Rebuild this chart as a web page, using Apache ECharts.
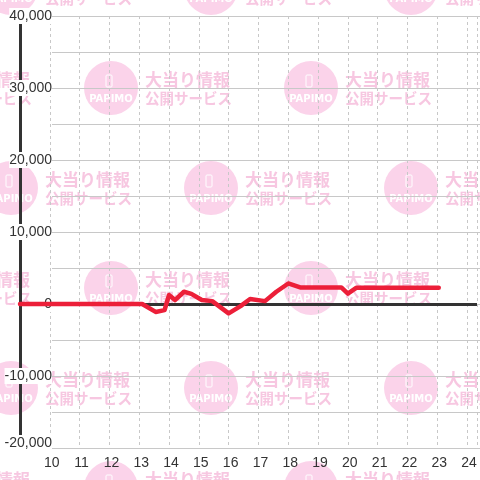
<!DOCTYPE html>
<html>
<head>
<meta charset="utf-8">
<script src="https://cdn.jsdelivr.net/npm/echarts@6/dist/echarts.min.js"></script>
<style>
html,body{margin:0;padding:0;background:#fff;}
#chart{width:480px;height:480px;}
</style>
</head>
<body>
<div id="chart"></div>
<script>
// ---- data ----
const hours  = [9, 13.1, 13.55, 13.85, 14.0, 14.2, 14.5, 14.75, 15.1, 15.45, 16.0, 16.4, 16.72, 17.22, 17.6, 18.0, 18.4, 19.78, 20.0, 20.28, 23.05];
const values = [0, 0, -1100, -850, 1250, 550, 1700, 1400, 550, 400, -1300, -300, 700, 400, 1700, 2850, 2300, 2300, 1450, 2250, 2250];
const xTickLabels = [10, 11, 12, 13, 14, 15, 16, 17, 18, 19, 20, 21, 22, 23, 24];
const yTickLabels = [-20000, -10000, 0, 10000, 20000, 30000, 40000];

const seriesData = hours.map((h, i) => [h, values[i]]);
const fmt = v => (v < 0 ? '-' : '') + Math.abs(v).toString().replace(/\B(?=(\d{3})+(?!\d))/g, ',');

// ---- watermark tiles ----
const wmCenters = [];
[-12, 88, 188, 288, 388, 488].forEach((cy, r) => {
  const xs = (r % 2 === 0) ? [11, 211, 411] : [-89, 111, 311];
  xs.forEach(cx => wmCenters.push([cx, cy]));
});
const graphics = [];
wmCenters.forEach(([cx, cy]) => {
  graphics.push({type: 'circle', z: -10, silent: true, shape: {cx: cx, cy: cy, r: 27}, style: {fill: '#fbd3ea'}});
  graphics.push({type: 'rect', z: -10, silent: true, shape: {x: cx - 5, y: cy - 13, width: 6, height: 12, r: 1}, style: {fill: 'none', stroke: '#ffffff', lineWidth: 1}});
  graphics.push({type: 'text', z: -10, silent: true, x: cx, y: cy + 11, style: {text: 'PAPIMO', fill: '#ffffff', font: 'bold 10px "DejaVu Sans", sans-serif', align: 'center', verticalAlign: 'middle'}});
  graphics.push({type: 'text', z: -10, silent: true, x: cx + 34, y: cy - 8, style: {text: '大当り情報', fill: '#f7c7e1', font: 'bold 17px "Noto Sans CJK JP", sans-serif', align: 'left', verticalAlign: 'middle'}});
  graphics.push({type: 'text', z: -10, silent: true, x: cx + 34, y: cy + 10, style: {text: '公開サービス', fill: '#f7c7e1', font: 'bold 14.5px "Noto Sans CJK JP", sans-serif', align: 'left', verticalAlign: 'middle'}});
});

const chart = echarts.init(document.getElementById('chart'), null, {renderer: 'canvas'});
const textStyle = {color: '#333', fontSize: 14, fontFamily: '"Liberation Sans", Arial, sans-serif'};

chart.setOption({
  animation: false,
  backgroundColor: '#ffffff',
  graphic: {elements: graphics},
  grid: [
    {left: 20, right: 0, top: 16, bottom: 32, containLabel: false},
    {left: 52, right: 0, top: 16, bottom: 32, containLabel: false}
  ],
  xAxis: [
    {
      type: 'value', gridIndex: 0, min: 9, max: 24.3334, interval: 1,
      axisLine: {show: false}, axisTick: {show: false},
      axisLabel: Object.assign({}, textStyle, {
        margin: 8, padding: [0, 0, 0, 4],
        formatter: v => (xTickLabels.indexOf(v) >= 0 ? String(v) : '')
      }),
      splitLine: {show: true, lineStyle: {color: '#c8c8c8', type: [3, 3], width: 1}}
    },
    {type: 'value', gridIndex: 1, min: 0, max: 1, show: false}
  ],
  yAxis: [
    {
      type: 'value', gridIndex: 1, min: -20000, max: 40000, interval: 5000,
      axisLine: {show: false}, axisTick: {show: false}, axisLabel: {show: false},
      splitLine: {show: true, lineStyle: {color: '#c8c8c8', width: 1}}
    },
    {
      type: 'value', gridIndex: 0, min: -20000, max: 40000, interval: 5000,
      axisLine: {show: true, onZero: false, lineStyle: {color: '#333333', width: 3}},
      axisTick: {show: false},
      splitLine: {show: false},
      axisLabel: Object.assign({}, textStyle, {
        margin: -32, align: 'right',
        backgroundColor: '#ffffff', padding: [1, 0, 1, 0],
        formatter: v => {
          if (yTickLabels.indexOf(v) < 0) return '';
          return v === -20000 ? '{lo|' + fmt(v) + '}' : fmt(v);
        },
        rich: {
          lo: Object.assign({}, textStyle, {padding: [0, 0, 10, 0]})
        }
      })
    }
  ],
  series: [{
    type: 'line', xAxisIndex: 0, yAxisIndex: 1,
    data: seriesData, showSymbol: false, smooth: false,
    lineStyle: {color: '#ec1f39', width: 4.5, join: 'round', cap: 'round'},
    markLine: {
      silent: true, symbol: 'none', label: {show: false},
      lineStyle: {color: '#333333', width: 3, type: 'solid'},
      data: [{yAxis: 0}],
      z: 1
    },
    z: 3
  }]
});
</script>
</body>
</html>
